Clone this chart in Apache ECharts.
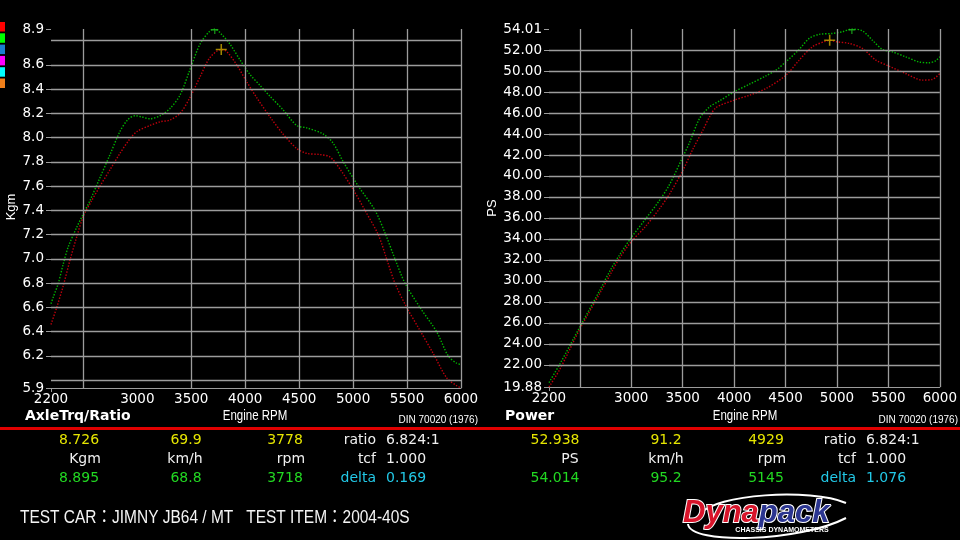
<!DOCTYPE html>
<html><head><meta charset="utf-8">
<script src="https://cdn.jsdelivr.net/npm/echarts@6/dist/echarts.min.js"></script>
<style>html,body{margin:0;padding:0;background:#000;}#c{width:960px;height:540px;}</style>
</head><body><div id="c"></div>
<script>
// ---- axes ----
const rpmRange = [2200, 6000];
const rpmLabels = [2200, 3000, 3500, 4000, 4500, 5000, 5500, 6000];
const rpmGridLeft = [2500, 3500, 4000, 4500, 5000, 5500, 6000];
const rpmGridRight = [2500, 3000, 3500, 4000, 4500, 5000, 5500, 6000];
const torqueRange = [5.936, 8.895];
const torqueLabels = [5.936, 6.2, 6.4, 6.6, 6.8, 7.0, 7.2, 7.4, 7.6, 7.8, 8.0, 8.2, 8.4, 8.6, 8.895];
const torqueGrid = [6.0, 6.2, 6.4, 6.6, 6.8, 7.0, 7.2, 7.4, 7.6, 7.8, 8.0, 8.2, 8.4, 8.6, 8.8];
const powerRange = [19.88, 54.014];
const powerLabels = [19.88, 22, 24, 26, 28, 30, 32, 34, 36, 38, 40, 42, 44, 46, 48, 50, 52, 54.014];
const powerGrid = [22, 24, 26, 28, 30, 32, 34, 36, 38, 40, 42, 44, 46, 48, 50, 52];

// ---- torque (Kgm) ----
const redTorqueRpm = [2200, 2253, 2314, 2376, 2438, 2499, 2577, 2654, 2747, 2839, 2932, 2997, 3118, 3210, 3303, 3396, 3488, 3581, 3674, 3778, 3828, 3921, 4014, 4106, 4230, 4350, 4477, 4570, 4693, 4786, 4879, 5002, 5110, 5233, 5311, 5388, 5497, 5620, 5743, 5867, 5960, 6000];
const redTorque = [6.46, 6.60, 6.78, 6.99, 7.18, 7.35, 7.48, 7.60, 7.735, 7.87, 7.99, 8.05, 8.10, 8.13, 8.145, 8.20, 8.33, 8.50, 8.66, 8.726, 8.71, 8.60, 8.46, 8.33, 8.17, 8.03, 7.91, 7.87, 7.86, 7.84, 7.74, 7.57, 7.40, 7.20, 7.00, 6.80, 6.60, 6.41, 6.22, 6.02, 5.955, 5.936];
const greenTorqueRpm = [2200, 2221, 2268, 2314, 2360, 2438, 2499, 2561, 2654, 2747, 2839, 2914, 2978, 3043, 3118, 3210, 3303, 3396, 3488, 3581, 3674, 3718, 3782, 3859, 3952, 4044, 4137, 4230, 4350, 4477, 4570, 4721, 4814, 4909, 5048, 5203, 5302, 5388, 5481, 5620, 5774, 5882, 5960, 6000];
const greenTorque = [6.63, 6.685, 6.80, 6.96, 7.10, 7.26, 7.37, 7.48, 7.67, 7.86, 8.05, 8.15, 8.18, 8.17, 8.155, 8.18, 8.24, 8.35, 8.56, 8.77, 8.88, 8.895, 8.85, 8.77, 8.64, 8.52, 8.43, 8.34, 8.23, 8.10, 8.08, 8.03, 7.955, 7.80, 7.60, 7.40, 7.20, 7.00, 6.80, 6.60, 6.40, 6.20, 6.14, 6.13];

// ---- power (PS) ----
const redPowerRpm = [2200, 2307, 2500, 2694, 2801, 2888, 3005, 3131, 3276, 3373, 3500, 3596, 3696, 3761, 3826, 4000, 4149, 4310, 4504, 4633, 4762, 4892, 4929, 5004, 5118, 5247, 5377, 5506, 5668, 5828, 5925, 6000];
const redPower = [19.88, 21.6, 25.4, 28.8, 30.7, 32.2, 33.8, 35.1, 36.9, 38.3, 40.5, 42.5, 44.36, 45.63, 46.53, 47.23, 47.70, 48.34, 49.61, 51.05, 52.32, 52.86, 52.938, 52.79, 52.64, 52.16, 51.05, 50.47, 49.77, 49.14, 49.20, 49.77];
const greenPowerRpm = [2200, 2307, 2500, 2694, 2801, 2888, 3005, 3131, 3276, 3373, 3500, 3567, 3664, 3761, 3858, 4000, 4149, 4310, 4407, 4504, 4633, 4730, 4827, 4956, 5053, 5145, 5247, 5344, 5441, 5538, 5668, 5796, 5893, 5958, 6000];
const greenPower = [20.3, 22.1, 25.6, 29.1, 31.1, 32.5, 34.2, 35.8, 37.7, 39.2, 41.8, 43.2, 45.48, 46.59, 47.16, 48.02, 48.75, 49.55, 50.09, 50.89, 52.07, 53.12, 53.50, 53.59, 53.75, 54.014, 53.84, 52.95, 52.07, 51.84, 51.36, 50.88, 50.79, 50.98, 51.36];

// ---- cursor / peak markers ----
const torqueCursor = [3778, 8.726];
const torquePeak = [3718, 8.895];
const powerCursor = [4929, 52.938];
const powerPeak = [5145, 54.014];

// ---- readout texts ----
const tqRow1 = ['8.726', '69.9', '3778'];
const tqRow2 = ['Kgm', 'km/h', 'rpm'];
const tqRow3 = ['8.895', '68.8', '3718'];
const pwRow1 = ['52.938', '91.2', '4929'];
const pwRow2 = ['PS', 'km/h', 'rpm'];
const pwRow3 = ['54.014', '95.2', '5145'];
const infoKeys = ['ratio', 'tcf', 'delta'];
const tqInfo = ['6.824:1', '1.000', '0.169'];
const pwInfo = ['6.824:1', '1.000', '1.076'];
const legendColors = ['#ff0000', '#00ff00', '#1a7fd0', '#ff00ff', '#00ffff', '#f07f1a'];

const GRAY = '#9c9c9c';
const F = 'DejaVu Sans';
const RED = '#c0000c';
const GREEN = '#00b400';
const YEL = '#e6e600';
const GRN = '#22d822';
const CYAN = '#22c8e6';
const WHITE = '#f0f0f0';

function pairs(x, y) { return x.map((v, i) => [v, y[i]]); }

function xAxisDef(i) {
  return {
    type: 'value', gridIndex: i, min: rpmRange[0], max: rpmRange[1],
    axisLine: { show: true, lineStyle: { color: GRAY, width: 1 } },
    axisTick: { show: true, customValues: [rpmRange[0]], length: 4, lineStyle: { color: GRAY } },
    axisLabel: { customValues: rpmLabels, color: '#fff', fontFamily: F, fontSize: 13.5, margin: 4, formatter: v => String(v) },
    splitLine: { show: false }
  };
}
function yAxisDef(i, range, labels, dec) {
  return {
    type: 'value', gridIndex: i, min: range[0], max: range[1],
    axisLine: { show: false },
    axisTick: { show: true, customValues: labels, length: 5, lineStyle: { color: GRAY } },
    axisLabel: { customValues: labels, color: '#fff', fontFamily: F, fontSize: 13.5, margin: 7, formatter: v => v.toFixed(dec) },
    splitLine: { show: false }
  };
}
function gridSeries(i, xs, ys) {
  return {
    type: 'line', xAxisIndex: i, yAxisIndex: i, data: [], silent: true, z: 1,
    markLine: {
      silent: true, symbol: ['none', 'none'], label: { show: false }, animation: false,
      lineStyle: { color: GRAY, type: 'solid', width: 1.3 },
      emphasis: { disabled: true },
      data: xs.map(v => ({ xAxis: v })).concat(ys.map(v => ({ yAxis: v })))
    }
  };
}
function curve(i, x, y, color) {
  return {
    type: 'line', xAxisIndex: i, yAxisIndex: i, data: pairs(x, y), smooth: 0.3,
    showSymbol: false, silent: true, z: 3,
    lineStyle: { color: color, width: 1.4, type: [1.4, 1.6] }
  };
}
const plusPath = 'path://M4.3,0H5.7V4.3H10V5.7H5.7V10H4.3V5.7H0V4.3H4.3Z';
const teePath = 'path://M0,0H8V1.4H4.7V5H3.3V1.4H0Z';
function marker(i, pt, path, size, color, off) {
  return {
    type: 'scatter', xAxisIndex: i, yAxisIndex: i, data: [pt], symbol: path,
    symbolSize: size, symbolOffset: off || [0, 0], itemStyle: { color: color }, silent: true, z: 5
  };
}

const graphics = [];
function txt(x, y, text, color, opts) {
  opts = opts || {};
  graphics.push({
    type: 'text', x: x, y: y, rotation: opts.rot || 0, scaleX: opts.sx || 1, silent: true,
    style: {
      text: text, fill: color, font: opts.font || ('14px "' + F + '"'),
      textAlign: opts.align || 'center', textVerticalAlign: 'middle'
    }
  });
}
// legend squares
legendColors.forEach((c, k) => {
  graphics.push({ type: 'rect', silent: true, shape: { x: 0, y: 22 + k * 11.3, width: 5, height: 9.5 }, style: { fill: c } });
});
// red separator
graphics.push({ type: 'rect', silent: true, shape: { x: 0, y: 427, width: 960, height: 3 }, style: { fill: '#e00000' } });
// axis titles
txt(11, 207, 'Kgm', '#fff', { rot: Math.PI / 2, font: '13px "Liberation Sans"' });
txt(492, 208, 'PS', '#fff', { rot: Math.PI / 2, font: '13px "Liberation Sans"' });
txt(25, 416, 'AxleTrq/Ratio', '#fff', { align: 'left', font: 'bold 14px "DejaVu Sans"' });
txt(505, 416, 'Power', '#fff', { align: 'left', font: 'bold 14px "DejaVu Sans"' });
txt(255, 416, 'Engine RPM', '#fff', { font: '14px "Liberation Sans"', sx: 0.82 });
txt(745, 416, 'Engine RPM', '#fff', { font: '14px "Liberation Sans"', sx: 0.82 });
txt(478, 420, 'DIN 70020 (1976)', '#fff', { align: 'right', font: '10px "Liberation Sans"' });
txt(958, 420, 'DIN 70020 (1976)', '#fff', { align: 'right', font: '10px "Liberation Sans"' });
// readouts
const rowsY = [440, 459, 478];
function table(r1, r2, r3, info, c13, c2, keyX, valX) {
  r1.forEach((t, k) => txt(c13[k], rowsY[0], t, YEL));
  r2.forEach((t, k) => txt(c2[k], rowsY[1], t, WHITE));
  r3.forEach((t, k) => txt(c13[k], rowsY[2], t, GRN));
  infoKeys.forEach((t, k) => {
    const col = k === 2 ? CYAN : WHITE;
    txt(keyX, rowsY[k], t, col, { align: 'right' });
    txt(valX, rowsY[k], info[k], col, { align: 'left' });
  });
}
table(tqRow1, tqRow2, tqRow3, tqInfo, [79, 186, 285], [85, 185, 291], 376, 386);
table(pwRow1, pwRow2, pwRow3, pwInfo, [555, 666, 766], [570, 666, 772], 856, 866);
// footer
txt(20, 518, 'TEST CAR：JIMNY JB64 / MT   TEST ITEM：2004-40S', '#f4f4f4', { align: 'left', font: '18px "Liberation Sans", "Noto Sans CJK JP"', sx: 0.86 });
// logo
graphics.push({ type: 'bezierCurve', silent: true, shape: { x1: 700, y1: 514, cpx1: 715, cpy1: 494, cpx2: 810, cpy2: 488, x2: 846, y2: 503 }, style: { stroke: '#fff', lineWidth: 2, fill: null } });
graphics.push({ type: 'bezierCurve', silent: true, shape: { x1: 688, y1: 524, cpx1: 690, cpy1: 545, cpx2: 800, cpy2: 542, x2: 846, y2: 518 }, style: { stroke: '#fff', lineWidth: 2, fill: null } });
graphics.push({
  type: 'text', x: 683, y: 513, silent: true,
  style: {
    text: '{a|Dyna}{b|pack}', textVerticalAlign: 'middle', textAlign: 'left',
    rich: {
      a: { fill: '#d8142a', font: 'italic bold 31px "Liberation Sans"', stroke: '#fff', lineWidth: 2 },
      b: { fill: '#2b3590', font: 'italic bold 31px "Liberation Sans"', stroke: '#fff', lineWidth: 2 }
    }
  }
});
txt(782, 530, 'CHASSIS DYNAMOMETERS', '#fff', { font: 'bold 7px "Liberation Sans"' });

const option = {
  backgroundColor: '#000',
  animation: false,
  grid: [
    { left: 51, top: 29, width: 410, height: 359 },
    { left: 549, top: 29, width: 392, height: 358 }
  ],
  xAxis: [xAxisDef(0), xAxisDef(1)],
  yAxis: [yAxisDef(0, torqueRange, torqueLabels, 1), yAxisDef(1, powerRange, powerLabels, 2)],
  series: [
    gridSeries(0, rpmGridLeft, torqueGrid),
    gridSeries(1, rpmGridRight, powerGrid),
    curve(0, redTorqueRpm, redTorque, RED),
    curve(0, greenTorqueRpm, greenTorque, GREEN),
    curve(1, redPowerRpm, redPower, RED),
    curve(1, greenPowerRpm, greenPower, GREEN),
    marker(0, torqueCursor, plusPath, 11, '#c8a800'),
    marker(1, powerCursor, plusPath, 11, '#c8a800'),
    marker(0, torquePeak, teePath, [7, 5], '#1fbf1f', [0, 2.5]),
    marker(1, powerPeak, teePath, [7, 5], '#1fbf1f', [0, 2.5])
  ],
  graphic: graphics
};
const chart = echarts.init(document.getElementById('c'));
chart.setOption(option);
</script>
</body></html>
